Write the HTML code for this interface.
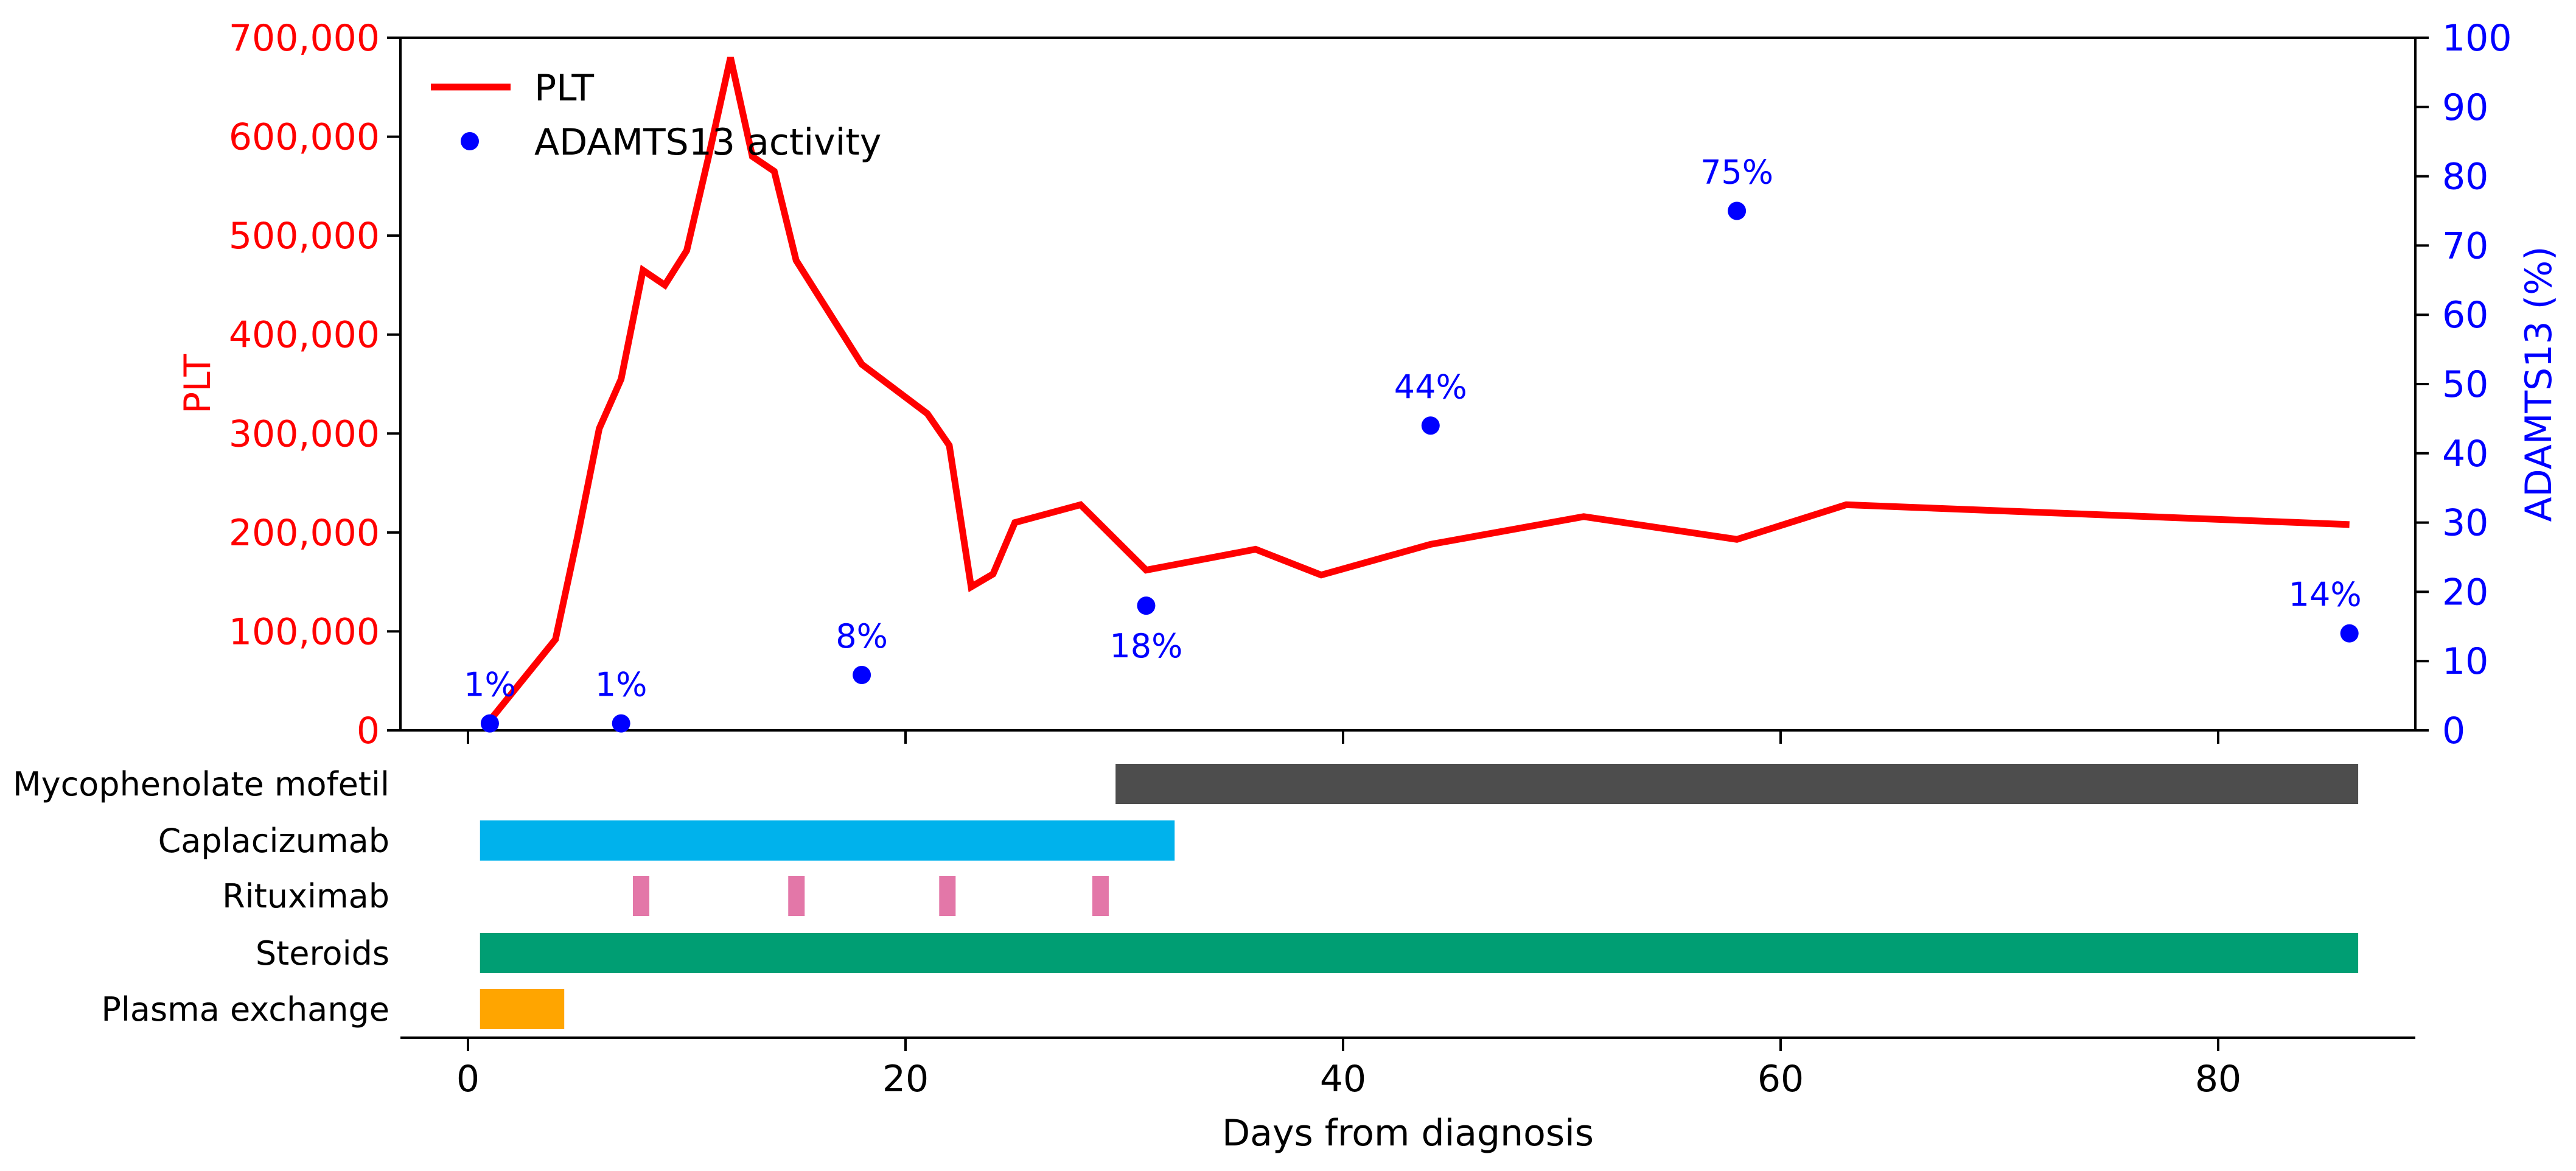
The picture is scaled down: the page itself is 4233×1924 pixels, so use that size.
<!DOCTYPE html>
<html><head><meta charset="utf-8"><style>
html,body{margin:0;padding:0;background:#fff;}
svg{display:block;font-family:"DejaVu Sans","Liberation Sans",sans-serif;}
</style></head><body>
<svg id="chart" width="4233" height="1924" viewBox="0 0 4233 1924" xmlns="http://www.w3.org/2000/svg">
<g id="g"></g>
</svg>
<script>
const pltDays = [1,4,5,6,7,8,9,10,11,12,13,14,15,18,21,22,23,24,25,28,31,36,39,44,51,58,63,86];
const pltValues = [10000,92000,195000,305000,355000,465000,450000,485000,580000,680000,580000,565000,475000,370000,320000,288000,145000,158000,210000,228000,162000,183000,157000,188000,216000,193000,228000,208000];
const adamDays = [1,7,18,31,44,58,86];
const adamValues = [1,1,8,18,44,75,14];
const adamLabels = ["1%","1%","8%","18%","44%","75%","14%"];
const leftTicks = [0,100000,200000,300000,400000,500000,600000,700000];
const leftTickLabels = ["0","100,000","200,000","300,000","400,000","500,000","600,000","700,000"];
const rightTicks = [0,10,20,30,40,50,60,70,80,90,100];
const xTicks = [0,20,40,60,80];
const treatments = ["Mycophenolate mofetil","Caplacizumab","Rituximab","Steroids","Plasma exchange"];
const treatStart = [29.6,0.55,null,0.55,0.55];
const treatEnd = [86.4,32.3,null,86.4,4.4];
const treatColors = ["#4d4d4d","#00b2ec","#e377a8","#009e73","#ffa500"];
const rituxDays = [7.9,15.0,21.9,28.9];

const NS="http://www.w3.org/2000/svg";
const g=document.getElementById('g');
const L=658,R=3969,T=62,B=1200;
const X=d=>769+(d)*35.95;
const YL=v=>B-(v/700000)*(B-T);
const YR=v=>B-(v/100)*(B-T);
function el(t,a,txt){const e=document.createElementNS(NS,t);for(const k in a)e.setAttribute(k,a[k]);if(txt!==undefined)e.textContent=txt;g.appendChild(e);return e;}

let e=el('rect',{x:L,y:T,width:R-L,height:B-T,fill:'none',stroke:'#000','stroke-width':4});


leftTicks.forEach((v,i)=>{
 let t=el('line',{x1:L-22,x2:L,y1:YL(v),y2:YL(v),stroke:'#000','stroke-width':4});
 
 
 let l=el('text',{x:L-34,y:YL(v)+21,'text-anchor':'end','font-size':60,fill:'#ff0000'},leftTickLabels[i]);
 
 
});
rightTicks.forEach(v=>{
 let t=el('line',{x1:R,x2:R+22,y1:YR(v),y2:YR(v),stroke:'#000','stroke-width':4});
 
 
 let l=el('text',{x:R+44,y:YR(v)+21,'font-size':60,fill:'#0000ff'},String(v));
 
 
});
xTicks.forEach(v=>{
 let t=el('line',{x1:X(v),x2:X(v),y1:B,y2:B+22,stroke:'#000','stroke-width':4});
 
 
});
e=el('text',{x:0,y:0,'font-size':60,fill:'#ff0000','text-anchor':'middle',transform:`translate(345,${(T+B)/2}) rotate(-90)`},'PLT');


e=el('text',{x:0,y:0,'font-size':60,fill:'#0000ff','text-anchor':'middle',transform:`translate(4192,${(T+B)/2}) rotate(-90)`},'ADAMTS13 (%)');



e=el('polyline',{points:pltDays.map((d,i)=>X(d)+','+YL(pltValues[i])).join(' '),fill:'none',stroke:'#ff0000','stroke-width':11,'stroke-linejoin':'miter'});


adamDays.forEach((d,i)=>{
 let c=el('circle',{cx:X(d),cy:YR(adamValues[i]),r:15,fill:'#0000ff'});
 
 
 const below=adamLabels[i]==="18%";
 let ty=below?YR(adamValues[i])+85:YR(adamValues[i])-45;
 let tx=X(d);
 if(i===adamDays.length-1)tx=X(d)-40;
 let l=el('text',{x:tx,y:ty,'text-anchor':'middle','font-size':54,fill:'#0000ff'},adamLabels[i]);
 
 
});
e=el('line',{x1:708,x2:839,y1:143,y2:143,stroke:'#ff0000','stroke-width':11});


e=el('text',{x:878,y:165,'font-size':60,fill:'#000'},'PLT');


e=el('circle',{cx:772,cy:232,r:15,fill:'#0000ff'});


e=el('text',{x:878,y:254,'font-size':60,fill:'#000'},'ADAMTS13 activity');



const rowC=[1288,1381,1472,1566,1658];
const barH=66;
treatments.forEach((n,i)=>{
 let l=el('text',{x:640,y:rowC[i]+19,'text-anchor':'end','font-size':54,fill:'#000'},n);
 
 
 if(treatStart[i]!==null){
  let r=el('rect',{x:X(treatStart[i]),y:rowC[i]-barH/2,width:X(treatEnd[i])-X(treatStart[i]),height:barH,fill:treatColors[i]});
  
  
 } else {
  rituxDays.forEach(d=>{
   let r=el('rect',{x:X(d)-13,y:rowC[i]-barH/2,width:27,height:barH,fill:treatColors[i]});
   
   
  });
 }
});
e=el('line',{x1:L,x2:R,y1:1705,y2:1705,stroke:'#000','stroke-width':4});


xTicks.forEach(v=>{
 let t=el('line',{x1:X(v),x2:X(v),y1:1705,y2:1727,stroke:'#000','stroke-width':4});
 
 
 let l=el('text',{x:X(v),y:1793,'text-anchor':'middle','font-size':60,fill:'#000'},String(v));
 
 
});
e=el('text',{x:(L+R)/2,y:1882,'text-anchor':'middle','font-size':60,fill:'#000'},'Days from diagnosis');


</script>
</body></html>
